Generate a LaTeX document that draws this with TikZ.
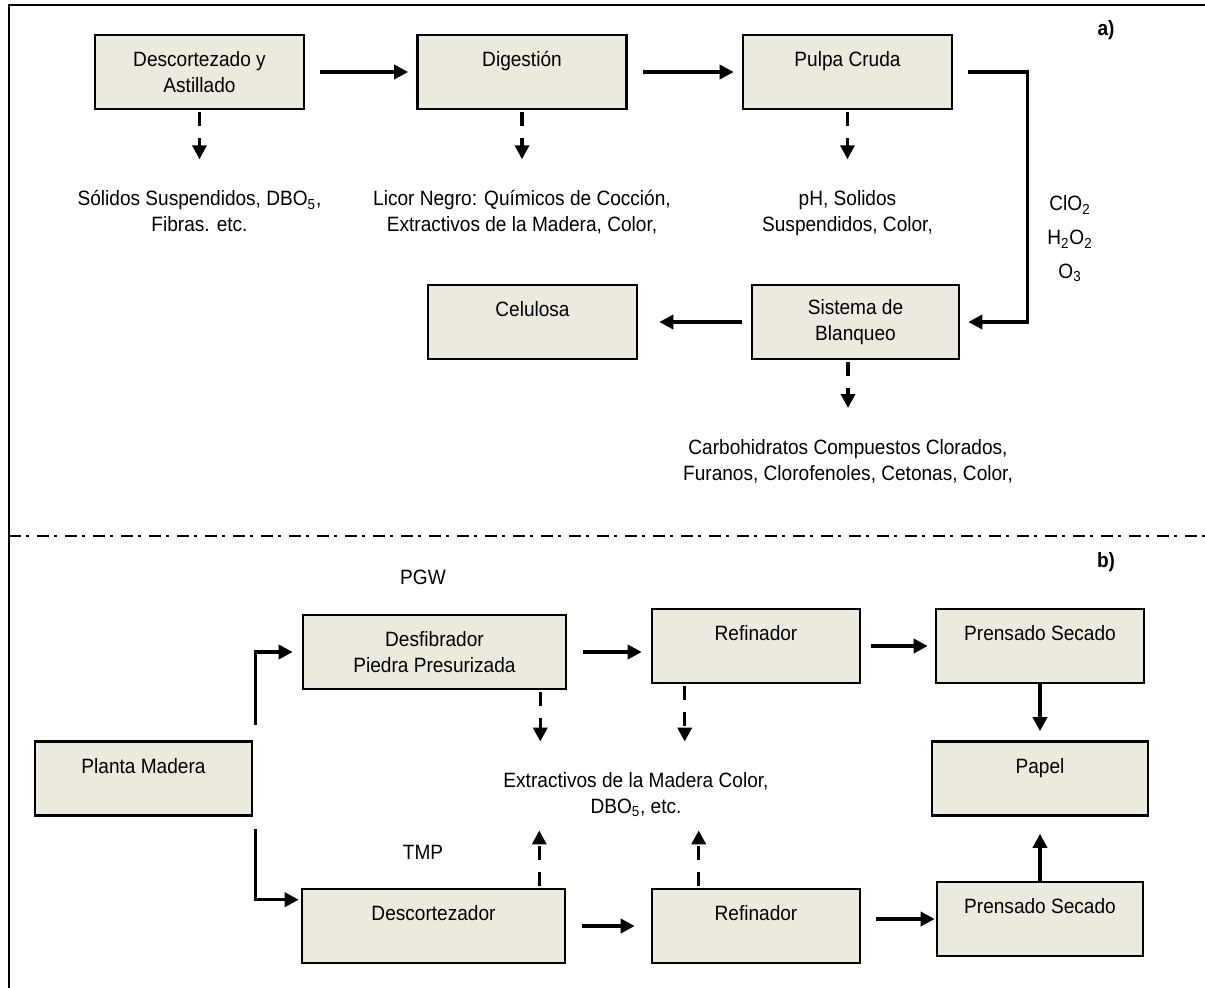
\documentclass[tikz,border=0pt]{standalone}
\usepackage{fontspec}
\setmainfont{Liberation Sans}[FakeStretch=0.92]
\usetikzlibrary{arrows.meta, positioning, calc}

\begin{document}
\begin{tikzpicture}[x=0.02cm, y=-0.02cm,
    font=\fontsize{11.8}{14.7}\selectfont,
    caja/.style={draw, line width=1.5pt, fill=cajacolor, minimum width=4.18cm,
      minimum height=1.48cm, align=center, inner sep=0pt},
    texto/.style={align=center, inner sep=0pt},
    flecha/.style={line width=2pt, -{Triangle[length=0.28cm, width=0.28cm]}},
    salida/.style={flecha, dash pattern=on 0.28cm off 0.24cm, shorten <=1pt, shorten >=0.62cm},
    etiqueta/.style={font=\fontsize{11.8}{14.7}\selectfont\bfseries}]
  % Colors
  \definecolor{cajacolor}{RGB}{236, 233, 222}

  \useasboundingbox (0,0) rectangle (1205,988);

  % Frame and separator
  \draw[line width=1.7pt] (9,988) -- (9,5) -- (1205,5);
  \draw[line width=1.1pt, dash pattern=on 0.24cm off 0.1cm on 0.06cm off 0.16cm] (9,536) -- (1205,536);
  \node[etiqueta] (etqa) at (1106,30) {a)};
  \node[etiqueta] (etqb) at (1106,562) {b)};

  % a) Kraft process
  \node[caja] (descort) at (199.5,72) {Descortezado y\\Astillado};
  \node[caja] (digest) at (522,72) {Digestión\\\mbox{}};
  \node[caja] (pulpa) at (847.5,72) {Pulpa Cruda\\\mbox{}};
  \node[caja, minimum width=4.14cm] (blanqueo) at (855.5,322) {Sistema de\\Blanqueo};
  \node[caja] (celulosa) at (532.5,322) {Celulosa\\\mbox{}};

  % a) effluents
  \node[texto, below=1.6cm of descort] (efl1) {Sólidos Suspendidos, DBO\textsubscript{5},\\Fibras. etc.};
  \node[texto, below=1.6cm of digest] (efl2) {Licor Negro: Químicos de Cocción,\\Extractivos de la Madera, Color,};
  \node[texto, below=1.6cm of pulpa] (efl3) {pH, Solidos\\Suspendidos, Color,};
  \node[texto, anchor=north] (efl4) at (848,439) {Carbohidratos Compuestos Clorados,\\Furanos, Clorofenoles, Cetonas, Color,};
  \node[texto, font=\fontsize{11.8}{19.3}\selectfont] (quim) at (1070,239) {ClO\textsubscript{2}\\H\textsubscript{2}O\textsubscript{2}\\O\textsubscript{3}};

  % a) arrows
  \draw[flecha, shorten <=0.3cm, shorten >=0.16cm] (descort) -- (digest);
  \draw[flecha, shorten <=0.3cm, shorten >=0.16cm] (digest) -- (pulpa);
  \draw[flecha, shorten <=0.3cm, shorten >=0.16cm] (pulpa.east) -- ++(74,0) |- (blanqueo.east);
  \draw[flecha, shorten <=0.18cm, shorten >=0.42cm] (blanqueo) -- (celulosa);
  \draw[salida] (descort) -- (efl1);
  \draw[salida] (digest) -- (efl2);
  \draw[salida] (pulpa) -- (efl3);
  \draw[salida] (blanqueo.south -| efl4) -- (efl4);

  % b) mechanical pulping
  \node (pgw) at (423,577) {PGW};
  \node (tmp) at (423,852) {TMP};
  \node[caja, minimum width=4.34cm] (planta) at (143.5,778.5) {Planta Madera\\\mbox{}};
  \node[caja, minimum width=5.26cm] (desfib) at (434.5,652) {Desfibrador\\Piedra Presurizada};
  \node[caja, minimum width=4.16cm] (refin1) at (756,646) {Refinador\\\mbox{}};
  \node[caja, minimum width=4.16cm] (prensa1) at (1040,646) {Prensado Secado\\\mbox{}};
  \node[caja, minimum width=4.32cm] (papel) at (1040,778.5) {Papel\\\mbox{}};
  \node[caja, minimum width=5.26cm] (descortz) at (433.5,926) {Descortezador\\\mbox{}};
  \node[caja, minimum width=4.16cm] (refin2) at (756,926) {Refinador\\\mbox{}};
  \node[caja, minimum width=4.12cm] (prensa2) at (1040,919) {Prensado Secado\\\mbox{}};
  \node[texto] (extr) at (636,795) {Extractivos de la Madera Color,\\DBO\textsubscript{5}, etc.};

  % b) arrows
  \draw[flecha, shorten >=0.18cm] ($(planta.north east)+(2,-15)$) |- (desfib);
  \draw[flecha, shorten >=0.04cm] ($(planta.south east)+(2,12)$) |- ($(descortz.north west)+(0,12)$);
  \draw[flecha, shorten <=0.32cm, shorten >=0.18cm] (desfib) -- (desfib -| refin1.west);
  \draw[flecha, shorten <=0.2cm, shorten >=0.14cm] (refin1) -- (prensa1);
  \draw[flecha, shorten >=0.18cm] (prensa1) -- (papel);
  \draw[flecha, shorten <=0.32cm, shorten >=0.32cm] (descortz) -- (refin2);
  \draw[flecha, shorten <=0.3cm, shorten >=0.02cm] (refin2.east |- prensa2) -- (prensa2);
  \draw[flecha, shorten >=0.34cm] (prensa2) -- (papel);

  % b) dashed outflows to the extractives
  \coordinate (sal1) at ($(desfib.south east)+(-27,0)$);
  \coordinate (sal2) at ($(refin1.south west)+(34,0)$);
  \coordinate (sal3) at ($(descortz.north east)+(-27,0)$);
  \coordinate (sal4) at ($(refin2.north west)+(48,0)$);
  \draw[salida] (sal1) -- (sal1 |- extr.north);
  \draw[salida] (sal2) -- (sal2 |- extr.north);
  \draw[salida, shorten >=0.26cm] (sal3) -- (sal3 |- extr.south);
  \draw[salida, shorten >=0.26cm] (sal4) -- (sal4 |- extr.south);
\end{tikzpicture}
\end{document}
